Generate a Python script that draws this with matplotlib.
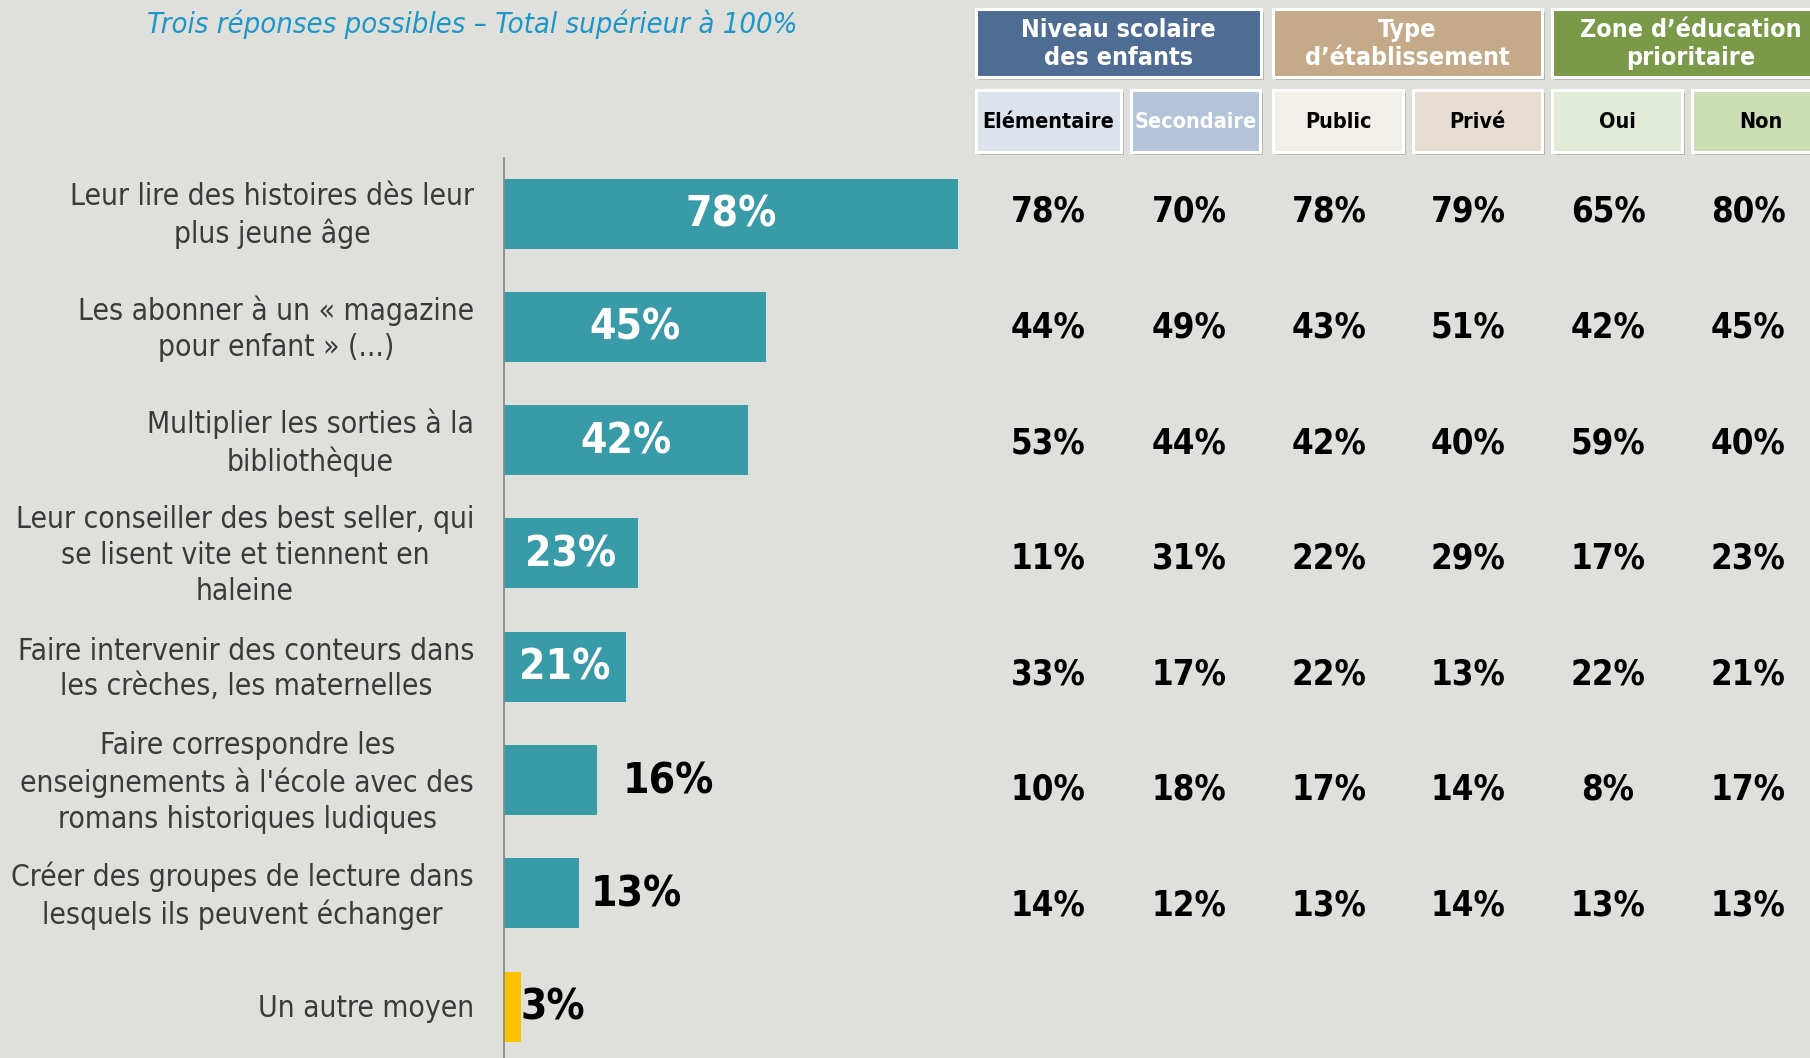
import matplotlib
matplotlib.use("Agg")
import matplotlib.pyplot as plt
from matplotlib.patches import Rectangle

# ---------------- data ----------------
categories = [
    "Leur lire des histoires dès leur\nplus jeune âge",
    "Les abonner à un « magazine\npour enfant » (...)",
    "Multiplier les sorties à la\nbibliothèque",
    "Leur conseiller des best seller, qui\nse lisent vite et tiennent en\nhaleine",
    "Faire intervenir des conteurs dans\nles crèches, les maternelles",
    "Faire correspondre les\nenseignements à l'école avec des\nromans historiques ludiques",
    "Créer des groupes de lecture dans\nlesquels ils peuvent échanger",
    "Un autre moyen",
]
totals = [78, 45, 42, 23, 21, 16, 13, 3]

group_titles = ["Niveau scolaire\ndes enfants", "Type\nd’établissement", "Zone d’éducation\nprioritaire"]
sub_titles = ["Elémentaire", "Secondaire", "Public", "Privé", "Oui", "Non"]
elementaire = [78, 44, 53, 11, 33, 10, 14]
secondaire = [70, 49, 44, 31, 17, 18, 12]
public = [78, 43, 42, 22, 22, 17, 13]
prive = [79, 51, 40, 29, 13, 14, 14]
zep_oui = [65, 42, 59, 17, 22, 8, 13]
zep_non = [80, 45, 40, 23, 21, 17, 13]
table_cols = [elementaire, secondaire, public, prive, zep_oui, zep_non]

subtitle = "Trois réponses possibles – Total supérieur à 100%"

# ---------------- style ----------------
BG = "#DFE0DB"
TEAL = "#3A9BA8"
YELLOW = "#FFC000"
FAM = "DejaVu Sans"
STRETCH = "condensed"

W, H = 1810, 1058
fig = plt.figure(figsize=(W / 100, H / 100), dpi=100, facecolor=BG)

# bar axes (pixel layout)
ax_left, ax_right, ax_top, ax_bot = 503.5, 1003.5, 158, 1058
px_per_pct = 5.83
y0, ystep = 213.5, 113.3
ax = fig.add_axes([ax_left / W, (H - ax_bot) / H, (ax_right - ax_left) / W, (ax_bot - ax_top) / H])
ax.set_facecolor("none")
ax.set_xlim(0, (ax_right - ax_left) / px_per_pct)
ax.set_ylim((ax_bot - y0) / ystep, (ax_top - y0) / ystep)

ypos = list(range(len(categories)))
colors = [TEAL] * (len(totals) - 1) + [YELLOW]
ax.barh(ypos, totals, height=70 / ystep, color=colors, zorder=2)

for s in ["top", "right", "bottom"]:
    ax.spines[s].set_visible(False)
ax.spines["left"].set_color("#8A8A8A")
ax.spines["left"].set_linewidth(1.3)
ax.set_xticks([])
ax.set_yticks(ypos)
ax.set_yticklabels([])
ax.tick_params(axis="y", length=0)

label_x = -29.5 / (ax_right - ax_left)
for y, lab in zip(ypos, categories):
    ax.text(label_x, y + 0.02, lab, transform=ax.get_yaxis_transform(), ha="right", va="center",
            multialignment="center", fontsize=21.5, color="#3A3A3A", family=FAM,
            fontstretch=STRETCH, linespacing=1.3, clip_on=False)

out_offsets = {16: 26, 13: 11, 3: 0}
for y, v in zip(ypos, totals):
    if v >= 20:
        ax.text(v / 2, y + 0.01, f"{v}%", ha="center", va="center", color="white",
                fontsize=30.5, fontweight="bold", family=FAM, fontstretch=STRETCH, zorder=3)
    else:
        off = out_offsets.get(v, 10) / px_per_pct
        ax.text(v + off, y + 0.01, f"{v}%", ha="left", va="center", color="black",
                fontsize=30.5, fontweight="bold", family=FAM, fontstretch=STRETCH, zorder=3)

# overlay axes in pixel coordinates for header and table
ov = fig.add_axes([0, 0, 1, 1])
ov.set_xlim(0, W)
ov.set_ylim(H, 0)
ov.axis("off")
ov.set_facecolor("none")

ov.text(147, 24, subtitle, ha="left", va="center", color="#1E96C8", fontsize=21,
        style="italic", family=FAM, fontstretch=STRETCH)


def box(x0, x1, yt, yb, fc, text, tc, fs, ls):
    ov.add_patch(Rectangle((x0 + 3, yt + 3), x1 - x0, yb - yt, facecolor="#9A9A9A",
                           edgecolor="none", alpha=0.6, zorder=1))
    ov.add_patch(Rectangle((x0, yt), x1 - x0, yb - yt, facecolor=fc,
                           edgecolor="white", linewidth=2.2, zorder=2))
    ov.text((x0 + x1) / 2, (yt + yb) / 2 + 1, text, ha="center", va="center", color=tc,
            fontsize=fs, fontweight="bold", family=FAM, fontstretch=STRETCH,
            linespacing=ls, zorder=3)


group_x = [(976, 1261), (1273, 1542), (1552, 1830)]
group_fc = ["#4F6D94", "#C4AA88", "#7A9A4A"]
for (x0, x1), fc, t in zip(group_x, group_fc, group_titles):
    box(x0, x1, 9, 77, fc, t, "white", 18, 1.25)

sub_x = [(976, 1121), (1131, 1260), (1273, 1403), (1413, 1542), (1552, 1682), (1692, 1830)]
sub_fc = ["#DCE3EC", "#B4C4D8", "#F2EEE8", "#E6DCD0", "#E2EAD8", "#CCDDB4"]
sub_tc = ["black", "white", "black", "black", "black", "black"]
for (x0, x1), fc, tc, t in zip(sub_x, sub_fc, sub_tc, sub_titles):
    box(x0, x1, 90, 152, fc, t, tc, 15.5, 1.1)

col_cx = [1048, 1189, 1329, 1468, 1608, 1748]
row_y0, row_step = 212, 115.6
for cx, col in zip(col_cx, table_cols):
    for i, v in enumerate(col):
        ov.text(cx, row_y0 + i * row_step, f"{v}%", ha="center", va="center",
                color="black", fontsize=25, fontweight="bold", family=FAM,
                fontstretch=STRETCH)

fig.savefig("out.png", dpi=100, facecolor=BG)
